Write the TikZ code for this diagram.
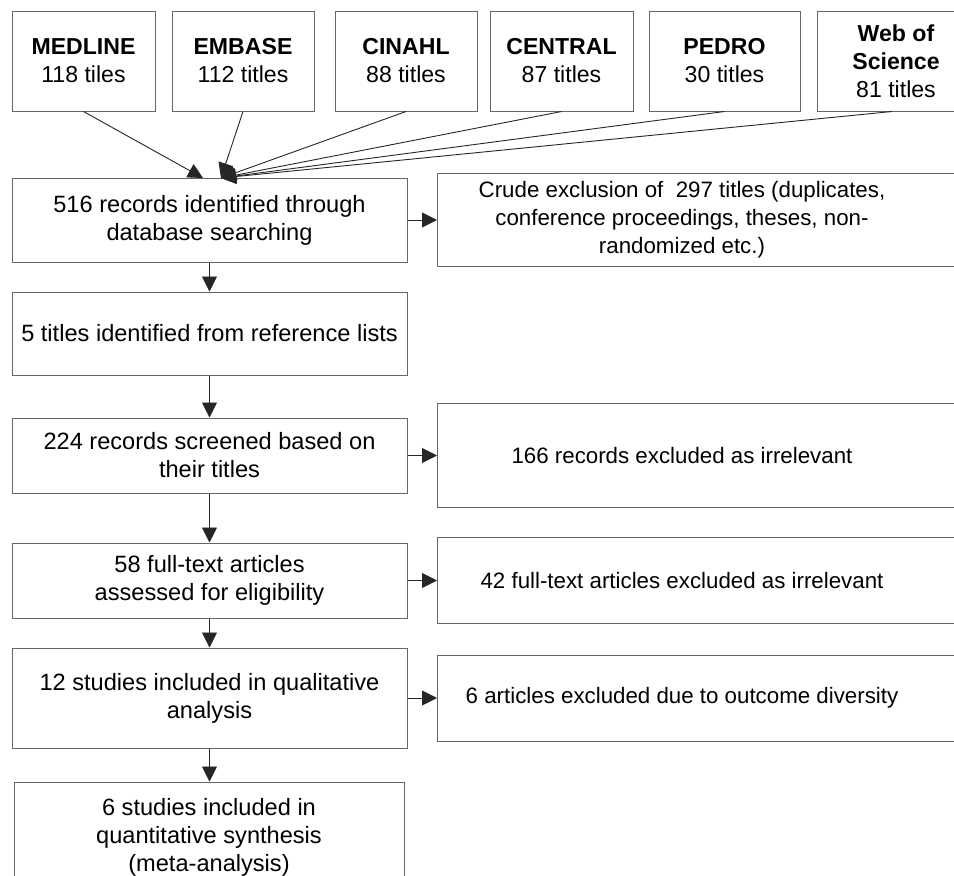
\documentclass[tikz,border=0pt]{standalone}
\usepackage{fontspec}
\setmainfont{Liberation Sans}
\usetikzlibrary{arrows.meta}
\begin{document}
\begin{tikzpicture}[x=1pt,y=-1pt,
  box/.style={draw=black!60, line width=1pt, fill=white, inner sep=0pt},
  txt/.style={font=\fontsize{23.6pt}{28pt}\selectfont, align=center, inner sep=0pt},
  txtr/.style={font=\fontsize{22.3pt}{28pt}\selectfont, align=center, inner sep=0pt},
  txtt/.style={font=\fontsize{23.1pt}{28pt}\selectfont, align=center, inner sep=0pt},
  arr/.style={draw=black!85, line width=0.9pt, -{Triangle[length=15pt,width=15pt]}}]
\path[use as bounding box] (0,0) rectangle (954,876);
\clip (0,0) rectangle (954,876);
% source databases
\node[box, txtt, minimum width=143pt, minimum height=100pt] (medline) at (83.5,61) {\textbf{MEDLINE}\\118 tiles};
\node[box, txtt, minimum width=142pt, minimum height=100pt] (embase) at (243,61) {\textbf{EMBASE}\\112 titles};
\node[box, txtt, minimum width=142pt, minimum height=100pt] (cinahl) at (406,61) {\textbf{CINAHL}\\88 titles};
\node[box, txtt, minimum width=143pt, minimum height=100pt] (central) at (561.5,61) {\textbf{CENTRAL}\\87 titles};
\node[box, txtt, minimum width=151pt, minimum height=100pt] (pedro) at (724.5,61) {\textbf{PEDRO}\\30 titles};
\node[box, txtt, minimum width=158pt, minimum height=100pt] (wos) at (896,61) {\textbf{Web of}\\\textbf{Science}\\81 titles};
% main column
\node[box, txt, minimum width=395pt, minimum height=84pt] (b1) at (209.5,220) {516 records identified through\\database searching};
\node[box, txt, minimum width=395pt, minimum height=83pt] (b2) at (209.5,333.5) {5 titles identified from reference lists};
\node[box, txt, minimum width=395pt, minimum height=75pt] (b3) at (209.5,455.5) {224 records screened based on\\their titles};
\node[box, txt, minimum width=395pt, minimum height=75pt] (b4) at (209.5,580.5) {58 full-text articles\\assessed for eligibility};
\node[box, txt, minimum width=395pt, minimum height=100pt] (b5) at (209.5,698) {12 studies included in qualitative\\analysis};
\node[box, txt, minimum width=390pt, minimum height=110pt] (b6) at (209,837) {6 studies included in\\quantitative synthesis\\(meta-analysis)};
% exclusion boxes
\node[box, minimum width=540pt, minimum height=93pt, anchor=west] (ex1) at (437,220) {};
\node[txtr] (ex1t) at (682,220) {Crude exclusion of\ \ 297 titles (duplicates,\\conference proceedings, theses, non-\\randomized etc.)};
\node[box, minimum width=540pt, minimum height=104pt, anchor=west] (ex2) at (437,455.5) {};
\node[txtr] (ex2t) at (682,455.5) {166 records excluded as irrelevant};
\node[box, minimum width=540pt, minimum height=86pt, anchor=west] (ex3) at (437,580.5) {};
\node[txtr] (ex3t) at (682,580.5) {42 full-text articles excluded as irrelevant};
\node[box, minimum width=540pt, minimum height=86pt, anchor=west] (ex4) at (437,698) {};
\node[txtr] (ex4t) at (682,698) {6 articles excluded due to outcome diversity};
% converging arrows
\coordinate (t1) at (203,178);
\coordinate (t2) at (221,178);
\draw[arr] (medline.south) -- (t1);
\draw[arr] (embase.south) -- (t2);
\draw[arr] (cinahl.south) -- (t2);
\draw[arr] (central.south) -- (t2);
\draw[arr] (pedro.south) -- (t2);
\draw[arr] ([xshift=-4pt]wos.south) -- (t2);
% vertical flow
\draw[arr] (b1.south) -- (b2.north);
\draw[arr] (b2.south) -- (b3.north);
\draw[arr] (b3.south) -- (b4.north);
\draw[arr] (b4.south) -- (b5.north);
\draw[arr] (b5.south) -- (b5.south |- b6.north);
% exclusions
\draw[arr] (b1.east) -- (ex1.west);
\draw[arr] (b3.east) -- (ex2.west);
\draw[arr] (b4.east) -- (ex3.west);
\draw[arr] (b5.east) -- (ex4.west);
\end{tikzpicture}
\end{document}
